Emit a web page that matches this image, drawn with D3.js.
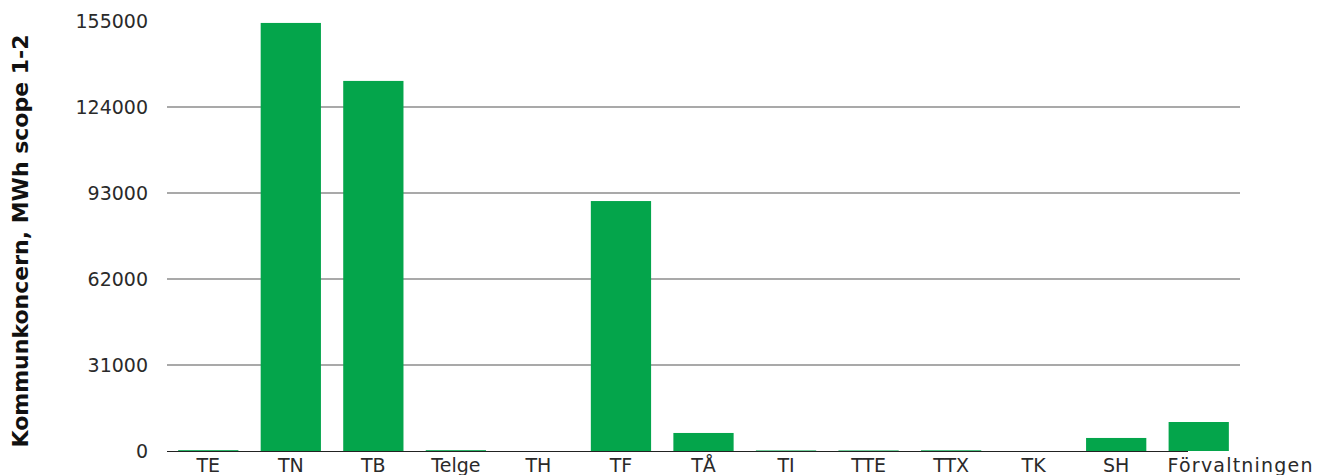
<!DOCTYPE html>
<html lang="sv">
<head>
<meta charset="utf-8">
<title>Kommunkoncern MWh scope 1-2</title>
<script src="https://d3js.org/d3.v7.min.js"></script>
<style>
body { margin: 0; background: #fff; }
svg { display: block; font-family: "DejaVu Sans", sans-serif; }
</style>
</head>
<body>
<script>
// data
var categories = ["TE", "TN", "TB", "Telge", "TH", "TF", "TÅ", "TI", "TTE", "TTX", "TK", "SH", "Förvaltningen"];
var values = [300, 154300, 133400, 300, 0, 90100, 6500, 200, 200, 250, 0, 4700, 10450];
var yTicks = [0, 31000, 62000, 93000, 124000, 155000];
var yTitle = "Kommunkoncern, MWh scope 1-2";

var width = 1323, height = 475;
var plotLeft = 167, plotRight = 1240, plotTop = 21, plotBottom = 451;

var svg = d3.select("body").append("svg")
    .attr("width", width)
    .attr("height", height);

var x = d3.scaleBand()
    .domain(categories)
    .range([plotLeft, plotRight])
    .paddingInner(0.27)
    .paddingOuter(0.135);

var y = d3.scaleLinear()
    .domain([0, 155000])
    .range([plotBottom, plotTop]);

// gridlines (no line at the top value)
svg.append("g")
    .selectAll("line")
    .data(yTicks.filter(function(d) { return d > 0 && d < 155000; }))
    .enter().append("line")
    .attr("x1", plotLeft)
    .attr("x2", plotRight)
    .attr("y1", function(d) { return y(d); })
    .attr("y2", function(d) { return y(d); })
    .attr("stroke", "#8c8c8c")
    .attr("stroke-width", 1.3);

svg.append("g")
    .selectAll("text")
    .data(yTicks)
    .enter().append("text")
    .attr("x", 148)
    .attr("y", function(d) { return y(d); })
    .attr("dy", "0.35em")
    .attr("text-anchor", "end")
    .attr("font-size", 19)
    .attr("fill", "#2a2a2a")
    .text(function(d) { return d; });

// bars
svg.append("g")
    .selectAll("rect")
    .data(values)
    .enter().append("rect")
    .attr("x", function(d, i) { return x(categories[i]); })
    .attr("width", x.bandwidth())
    .attr("y", function(d) { return y(d); })
    .attr("height", function(d) { return y(0) - y(d); })
    .attr("fill", "#04a54b");

// baseline
svg.append("line")
    .attr("x1", plotLeft)
    .attr("x2", 1188)
    .attr("y1", y(0) + 0.5)
    .attr("y2", y(0) + 0.5)
    .attr("stroke", "#222")
    .attr("stroke-width", 1.2);

// category labels
svg.append("g")
    .selectAll("text")
    .data(categories)
    .enter().append("text")
    .attr("x", function(d, i) {
        return i == categories.length - 1 ? x(d) - 1 : x(d) + x.bandwidth() / 2;
    })
    .attr("y", 472)
    .attr("text-anchor", function(d, i) { return i == categories.length - 1 ? "start" : "middle"; })
    .attr("font-size", 19)
    .attr("letter-spacing", function(d, i) { return i == categories.length - 1 ? 1.2 : 0; })
    .attr("fill", "#2a2a2a")
    .text(function(d) { return d; });

// y axis title
svg.append("text")
    .attr("transform", "translate(28,241) rotate(-90)")
    .attr("text-anchor", "middle")
    .attr("font-size", 22)
    .attr("font-weight", "bold")
    .attr("fill", "#111")
    .text(yTitle);
</script>
</body>
</html>
